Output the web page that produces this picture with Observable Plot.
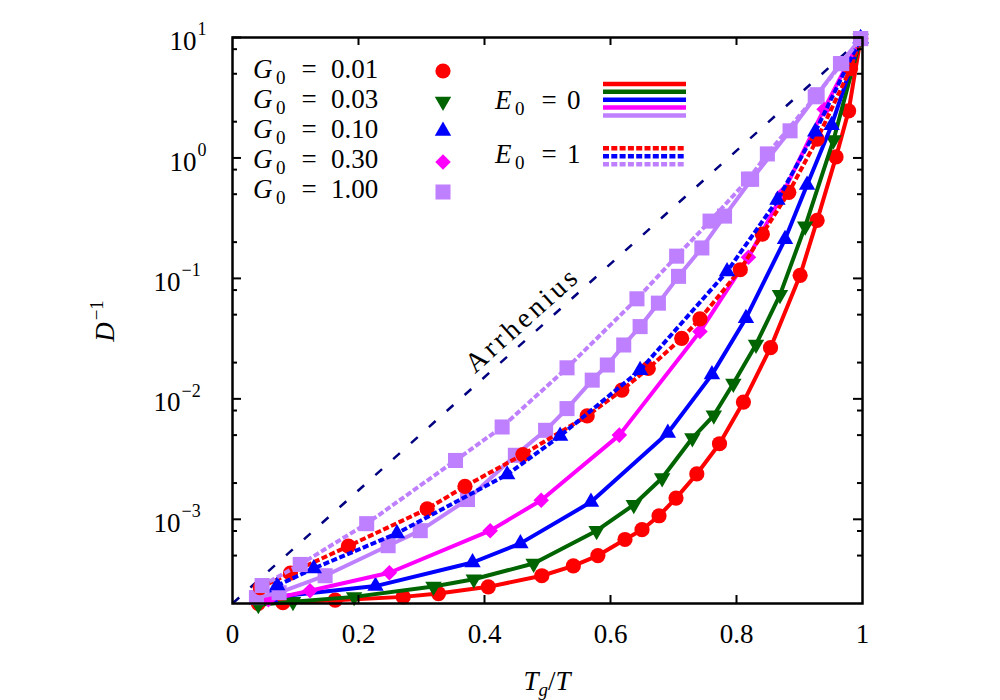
<!DOCTYPE html>
<html><head><meta charset="utf-8">
<script src="https://cdn.jsdelivr.net/npm/d3@7"></script>
<script src="https://cdn.jsdelivr.net/npm/@observablehq/plot@0.6"></script>
<style>
body{margin:0;background:#fff;}
#chart{width:1000px;height:700px;}
</style></head><body><div id="chart"></div>
<script>
// ---- tick values ----
const xTicks = [0.2, 0.4, 0.6, 0.8];
const xLabels = [0, 0.2, 0.4, 0.6, 0.8, 1];
const xLabelText = ["0", "0.2", "0.4", "0.6", "0.8", "1"];
const yMajorPos = [1, 10];
const yMajorNeg = [1e-3, 1e-2, 1e-1];
const yExpPos = ["0", "1"];
const yExpNeg = ["\u22123", "\u22122", "\u22121"];
const yMinor = [5e-4, 8e-4, 2e-3, 5e-3, 8e-3, 2e-2, 5e-2, 8e-2, 0.2, 0.5, 0.8, 2, 5, 8];

// ---- Arrhenius reference ----
const arrX = [0, 1];
const arrY = [2e-4, 10];

// ---- E0 = 0 ----
const tg_g001_e0 = [0.041,0.080,0.163,0.271,0.327,0.406,0.491,0.541,0.580,0.623,0.650,0.677,0.704,0.737,0.773,0.811,0.854,0.901,0.928,0.958,0.978,0.997];
const d_g001_e0  = [2.0e-4,2.03e-4,2.13e-4,2.27e-4,2.42e-4,2.75e-4,3.4e-4,4.1e-4,5.0e-4,6.8e-4,8.2e-4,1.07e-3,1.5e-3,2.38e-3,4.24e-3,9.4e-3,2.66e-2,0.106,0.303,1.02,2.46,9.8];

const tg_g003_e0 = [0.041,0.096,0.193,0.319,0.383,0.478,0.578,0.637,0.682,0.730,0.764,0.795,0.831,0.869,0.909,0.954,0.997];
const d_g003_e0  = [1.95e-4,2.07e-4,2.27e-4,2.77e-4,3.18e-4,4.3e-4,8.05e-4,1.32e-3,2.2e-3,4.73e-3,7.3e-3,1.34e-2,2.83e-2,7.3e-2,0.271,1.41,9.8];

const tg_g010_e0 = [0.060,0.227,0.381,0.457,0.569,0.691,0.761,0.815,0.877,0.912,0.951,0.997];
const d_g010_e0  = [2.24e-4,2.79e-4,4.38e-4,6.31e-4,1.39e-3,5.21e-3,1.59e-2,4.67e-2,0.211,0.596,1.87,9.8];

const tg_g030_e0 = [0.057,0.123,0.249,0.409,0.490,0.614,0.742,0.819,0.873,0.939,0.997];
const d_g030_e0  = [2.15e-4,2.55e-4,3.6e-4,8.05e-4,1.44e-3,5.0e-3,3.62e-2,0.15,0.50,2.54,9.8];

const tg_g100_e0 = [0.038,0.074,0.147,0.247,0.298,0.373,0.449,0.497,0.531,0.571,0.595,0.621,0.647,0.676,0.708,0.745,0.781,0.824,0.885,0.928,0.965,0.997];
const d_g100_e0  = [2.24e-4,2.46e-4,3.4e-4,6.04e-4,8.05e-4,1.46e-3,3.4e-3,5.48e-3,8.3e-3,1.43e-2,1.91e-2,2.8e-2,3.98e-2,6.23e-2,0.104,0.179,0.329,0.665,1.68,3.35,6.07,9.8];

// ---- E0 = 1 ----
const tg_g001_e1 = [0.044,0.092,0.184,0.309,0.369,0.461,0.563,0.618,0.660,0.713,0.742,0.806,0.841,0.883,0.928,0.981,0.997];
const d_g001_e1  = [2.71e-4,3.58e-4,5.99e-4,1.22e-3,1.88e-3,3.45e-3,7.22e-3,1.18e-2,1.79e-2,3.18e-2,4.61e-2,0.118,0.233,0.518,1.43,5.52,9.8];

const tg_g010_e1 = [0.071,0.129,0.261,0.436,0.520,0.647,0.785,0.865,0.925,0.997];
const d_g010_e1  = [2.82e-4,3.91e-4,7.64e-4,2.35e-3,4.92e-3,1.73e-2,0.114,0.447,1.65,9.8];

const tg_g100_e1 = [0.047,0.1075,0.213,0.354,0.428,0.531,0.642,0.705,0.758,0.819,0.849,0.925,0.967,0.997];
const d_g100_e1  = [2.82e-4,4.22e-4,9.2e-4,3.08e-3,5.84e-3,1.81e-2,6.77e-2,0.153,0.299,0.668,1.08,3.22,6.07,9.8];

// ---- legend labels ----
const gLabels = ["0.01", "0.03", "0.10", "0.30", "1.00"];
const eLabels = ["0", "1"];

// ---- styling ----
const red = "#ff0000", green = "#006400", blue = "#0000ff", magenta = "#ff00ff", purple = "#bf80ff", navy = "#000080";
const FONT = "Liberation Serif";
const ML = 232, MR = 138, MT = 37, MB = 97, W = 1000, H = 700;
const PW = W - ML - MR, PH = H - MT - MB;

const triDown = {
  draw(ctx, size) {
    const s3 = Math.sqrt(3);
    const y = -Math.sqrt(size / (s3 * 3));
    ctx.moveTo(0, -y * 2);
    ctx.lineTo(-s3 * y, y);
    ctx.lineTo(s3 * y, y);
    ctx.closePath();
  }
};
const symInfo = {
  circle: {plot: "circle", d3: d3.symbolCircle, r: 7.6},
  down:   {plot: triDown, d3: triDown, r: 6.1},
  up:     {plot: "triangle", d3: d3.symbolTriangle, r: 6.1},
  diamond:{plot: "diamond2", d3: d3.symbolDiamond2, r: 7.0},
  square: {plot: "square", d3: d3.symbolSquare, r: 8.5}
};

const rowsOf = (xs, ys) => xs.map((x, i) => ({x, y: ys[i]}));

const series = [
  {x: tg_g001_e0, y: d_g001_e0, color: red, sym: "circle", dash: null},
  {x: tg_g003_e0, y: d_g003_e0, color: green, sym: "down", dash: null},
  {x: tg_g010_e0, y: d_g010_e0, color: blue, sym: "up", dash: null},
  {x: tg_g030_e0, y: d_g030_e0, color: magenta, sym: "diamond", dash: null},
  {x: tg_g100_e0, y: d_g100_e0, color: purple, sym: "square", dash: null},
  {x: tg_g001_e1, y: d_g001_e1, color: red, sym: "circle", dash: "6,2.5"},
  {x: tg_g010_e1, y: d_g010_e1, color: blue, sym: "up", dash: "6,2.5"},
  {x: tg_g100_e1, y: d_g100_e1, color: purple, sym: "square", dash: "6,2.5"}
];

const marks = [];
marks.push(Plot.line(rowsOf(arrX, arrY), {x: "x", y: "y", stroke: navy, strokeWidth: 2.5, strokeDasharray: "9,15", strokeLinecap: "butt"}));
for (const s of series) {
  const d = rowsOf(s.x, s.y);
  const lineOpts = {x: "x", y: "y", stroke: s.color, strokeWidth: 4};
  if (s.dash) { lineOpts.strokeDasharray = s.dash; lineOpts.strokeLinecap = "butt"; lineOpts.strokeLinejoin = "miter"; }
  marks.push(Plot.line(d, lineOpts));
  marks.push(Plot.dot(d, {x: "x", y: "y", fill: s.color, stroke: "none", symbol: symInfo[s.sym].plot, r: symInfo[s.sym].r}));
}
// frame and inward ticks
marks.push(Plot.frame({stroke: "black", strokeWidth: 2.5}));
const tk = {stroke: "black", strokeWidth: 2};
marks.push(Plot.tickX(xTicks, {x: d => d, ...tk, insetTop: PH - 8}));
marks.push(Plot.tickX(xTicks, {x: d => d, ...tk, insetBottom: PH - 8}));
const yMajor = yMajorNeg.concat(yMajorPos);
marks.push(Plot.tickY(yMajor, {y: d => d, ...tk, insetRight: PW - 9}));
marks.push(Plot.tickY(yMajor, {y: d => d, ...tk, insetLeft: PW - 9}));
marks.push(Plot.tickY(yMinor, {y: d => d, ...tk, insetRight: PW - 5}));
marks.push(Plot.tickY(yMinor, {y: d => d, ...tk, insetLeft: PW - 5}));
// tick labels
marks.push(Plot.text(xLabels, {x: d => d, text: (d, i) => xLabelText[i], frameAnchor: "bottom", dy: 31, lineAnchor: "middle", fontSize: 27, fill: "black"}));
marks.push(Plot.text(yMajorPos, {y: d => d, text: () => "10", frameAnchor: "left", dx: -36, dy: 4, textAnchor: "end", lineAnchor: "middle", fontSize: 27, fill: "black"}));
marks.push(Plot.text(yMajorPos, {y: d => d, text: (d, i) => yExpPos[i], frameAnchor: "left", dx: -35, dy: -8, textAnchor: "start", lineAnchor: "middle", fontSize: 18, fill: "black"}));
marks.push(Plot.text(yMajorNeg, {y: d => d, text: () => "10", frameAnchor: "left", dx: -52, dy: 4, textAnchor: "end", lineAnchor: "middle", fontSize: 27, fill: "black"}));
marks.push(Plot.text(yMajorNeg, {y: d => d, text: (d, i) => yExpNeg[i], frameAnchor: "left", dx: -51, dy: -8, textAnchor: "start", lineAnchor: "middle", fontSize: 18, fill: "black"}));
// Arrhenius label
marks.push(Plot.text([{x: 0.46, y: 0.0455}], {x: "x", y: "y", text: () => "Arrhenius", rotate: -41.94, fontSize: 28, fill: "black", lineAnchor: "middle"}));

const svg = Plot.plot({
  width: W, height: H,
  marginLeft: ML, marginRight: MR, marginTop: MT, marginBottom: MB,
  x: {domain: [0, 1], axis: null},
  y: {type: "log", domain: [2e-4, 10], axis: null},
  style: {fontFamily: FONT, background: "white", color: "black", overflow: "visible"},
  marks
});
document.getElementById("chart").appendChild(svg);

const root = d3.select(svg);
root.selectAll("text").filter(function () { return this.textContent === "Arrhenius"; }).attr("letter-spacing", "3.5px");

// ---- legend ----
const lg = root.append("g").attr("font-family", FONT).attr("fill", "black").attr("text-anchor", "start");
const legendSyms = ["circle", "down", "up", "diamond", "square"];
const legendColors = [red, green, blue, magenta, purple];
gLabels.forEach((lab, i) => {
  const yb = 78 + 30 * i;
  lg.append("text").attr("x", 253).attr("y", yb).attr("font-size", 27).attr("font-style", "italic").text("G");
  lg.append("text").attr("x", 276).attr("y", yb + 6).attr("font-size", 19).text("0");
  lg.append("text").attr("x", 309).attr("y", yb).attr("font-size", 27).attr("text-anchor", "middle").text("=");
  lg.append("text").attr("x", 331).attr("y", yb).attr("font-size", 27).text(lab);
  const si = symInfo[legendSyms[i]];
  lg.append("path").attr("transform", `translate(443,${[71, 101.5, 131, 162, 192][i]})`)
    .attr("d", d3.symbol().type(si.d3).size(Math.PI * si.r * si.r)()).attr("fill", legendColors[i]);
});
eLabels.forEach((lab, i) => {
  const yb = [109, 163][i];
  lg.append("text").attr("x", 495).attr("y", yb).attr("font-size", 27).attr("font-style", "italic").text("E");
  lg.append("text").attr("x", 515).attr("y", yb + 6).attr("font-size", 19).text("0");
  lg.append("text").attr("x", 549).attr("y", yb).attr("font-size", 27).attr("text-anchor", "middle").text("=");
  lg.append("text").attr("x", 567).attr("y", yb).attr("font-size", 27).text(lab);
});
const e0Colors = [red, green, blue, magenta, purple];
const e0Y = [84, 91.8, 99.7, 107.6, 115.4];
e0Colors.forEach((c, i) => lg.append("line").attr("x1", 603).attr("x2", 686).attr("y1", e0Y[i]).attr("y2", e0Y[i]).attr("stroke", c).attr("stroke-width", 4.5));
const e1Colors = [red, blue, purple];
const e1Y = [148.3, 156.2, 164.2];
e1Colors.forEach((c, i) => lg.append("line").attr("x1", 603).attr("x2", 686).attr("y1", e1Y[i]).attr("y2", e1Y[i]).attr("stroke", c).attr("stroke-width", 4.5).attr("stroke-dasharray", "6,2.3"));

// ---- axis titles ----
const yl = root.append("text").attr("transform", "translate(114,321) rotate(-90)").attr("text-anchor", "middle")
  .attr("font-family", FONT).attr("font-size", 27).attr("fill", "black");
yl.append("tspan").attr("font-style", "italic").text("D");
yl.append("tspan").attr("font-size", 19).attr("dy", -11).attr("dx", 2).text("\u22121");

const xl = root.append("text").attr("x", 547).attr("y", 690).attr("text-anchor", "middle")
  .attr("font-family", FONT).attr("font-size", 27).attr("fill", "black");
xl.append("tspan").attr("font-style", "italic").text("T");
xl.append("tspan").attr("font-style", "italic").attr("font-size", 19).attr("dy", 6).text("g");
xl.append("tspan").attr("dy", -6).text("/");
xl.append("tspan").attr("font-style", "italic").text("T");
</script>
</body></html>
